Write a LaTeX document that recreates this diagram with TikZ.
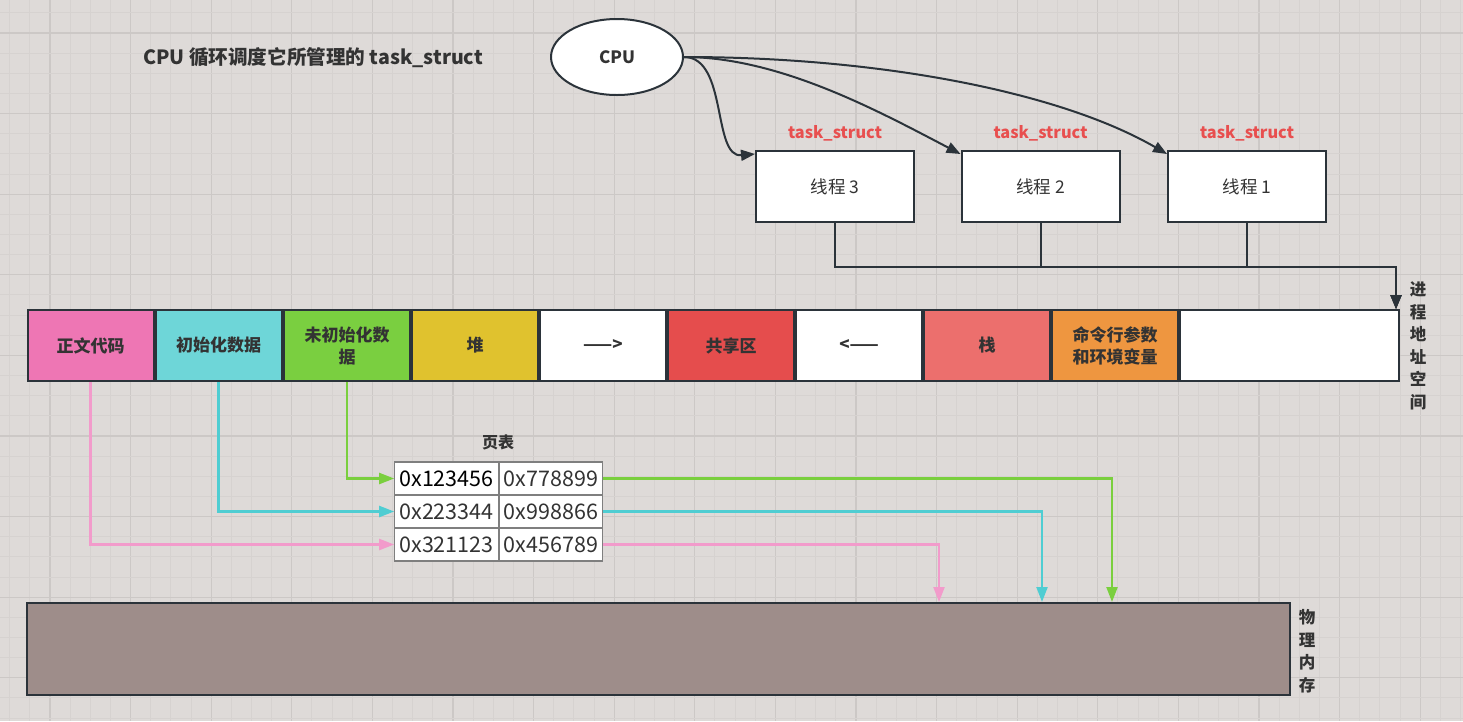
\documentclass[tikz,border=0pt]{standalone}
\usepackage{fontspec}
\setmainfont{Noto Sans CJK SC}
\usetikzlibrary{arrows.meta,shapes.geometric}
\definecolor{bg}{RGB}{222,218,216}
\definecolor{gminor}{RGB}{214,210,208}
\definecolor{gmajor}{RGB}{204,200,198}
\definecolor{bord}{HTML}{2B333A}
\definecolor{txt}{HTML}{333333}
\definecolor{pinkf}{HTML}{EE76B4}
\definecolor{cyanf}{HTML}{6ED6D8}
\definecolor{greenf}{HTML}{7ACF40}
\definecolor{yellowf}{HTML}{E0C22E}
\definecolor{redf}{HTML}{E54D4D}
\definecolor{lredf}{HTML}{EC6F6D}
\definecolor{orangef}{HTML}{EE9640}
\definecolor{memf}{HTML}{9E8D8A}
\definecolor{pinkl}{HTML}{F29BCB}
\definecolor{cyanl}{HTML}{4FCDD2}
\definecolor{greenl}{HTML}{7ACF3E}
\definecolor{taskred}{HTML}{E84F4F}
\definecolor{cellb}{HTML}{7F7F7F}
\tikzset{
  seg/.style={draw=bord,line width=2pt,minimum width=126pt,minimum height=71pt,inner sep=0pt,align=center,text=txt,font=\fontsize{17}{22}\selectfont\bfseries},
  thread/.style={draw=bord,fill=white,line width=2pt,minimum width=158pt,minimum height=71pt,inner sep=0pt,text=txt,font=\fontsize{17.5}{20}\selectfont},
  tasklbl/.style={text=taskred,font=\fontsize{16.3}{19}\selectfont\bfseries},
  cell/.style={draw=cellb,fill=white,line width=1.2pt,minimum width=103.5pt,minimum height=33pt,inner sep=0pt,text=txt,font=\fontsize{21.5}{24}\selectfont},
  vlabel/.style={align=center,text=txt,font=\fontsize{16.5}{22.5}\selectfont\bfseries},
  darr/.style={draw=bord,line width=2pt,-{Triangle[length=14pt,width=11pt]}},
  carr/.style={line width=2.2pt,-{Triangle[length=15pt,width=11pt]}}
}
\begin{document}
\begin{tikzpicture}[x=1pt,y=-1pt]
\fill[bg] (0,0) rectangle (1463,721);
\useasboundingbox (0,0) rectangle (1463,721);
\foreach \i in {0,...,72}{
  \pgfmathsetmacro\xx{9.7+20.15*\i}
  \pgfmathtruncatemacro\m{mod(\i,4)}
  \ifnum\m=2 \draw[gmajor,line width=1.3pt] (\xx,0)--(\xx,721);
  \else \draw[gminor,line width=1pt] (\xx,0)--(\xx,721); \fi
}
\foreach \i in {0,...,35}{
  \pgfmathsetmacro\yy{12.85+20.15*\i}
  \pgfmathtruncatemacro\m{mod(\i,4)}
  \ifnum\m=1 \draw[gmajor,line width=1.3pt] (0,\yy)--(1463,\yy);
  \else \draw[gminor,line width=1pt] (0,\yy)--(1463,\yy); \fi
}

% title
\node[text=txt,font=\fontsize{19.6}{23}\selectfont\bfseries] (title) at (313,58) {CPU 循环调度它所管理的 task\_struct};

% CPU
\node[ellipse,draw=bord,fill=white,line width=2pt,minimum width=132pt,minimum height=76pt,inner sep=0pt,text=txt,font=\fontsize{17}{20}\selectfont\bfseries] (cpu) at (617,57) {CPU};

% threads
\node[thread] (t3) at (835,186.5) {线程 3};
\node[thread] (t2) at (1040.5,186.5) {线程 2};
\node[thread] (t1) at (1247,186.5) {线程 1};
\node[tasklbl] (l3) at (835,133) {task\_struct};
\node[tasklbl] (l2) at (1040.5,133) {task\_struct};
\node[tasklbl] (l1) at (1247,133) {task\_struct};

% address space
\node[seg,fill=pinkf] (s1) at (90.5,345.5) {正文代码};
\node[seg,fill=cyanf] (s2) at (218.5,345.5) {初始化数据};
\node[seg,fill=greenf] (s3) at (347,345.5) {未初始化数\\据};
\node[seg,fill=yellowf] (s4) at (475,345.5) {堆};
\node[seg,fill=white] (s5) at (603,345.5) {——>};
\node[seg,fill=redf] (s6) at (731,345.5) {共享区};
\node[seg,fill=white] (s7) at (859,345.5) {<——};
\node[seg,fill=lredf] (s8) at (987,345.5) {栈};
\node[seg,fill=orangef] (s9) at (1115,345.5) {命令行参数\\和环境变量};
\node[seg,fill=white,minimum width=219pt] (s10) at (1289.5,345.5) {};
\node[vlabel] (asl) at (1418,346) {进\\程\\地\\址\\空\\间};

% CPU edges
\draw[darr] (cpu.east) .. controls (728,57) and (712,158) .. ([yshift=-4pt]t3.north west);
\draw[darr] (cpu.east) .. controls (780,57) and (880,112) .. ([yshift=-4pt]t2.north west);
\draw[darr] (cpu.east) .. controls (880,57) and (1060,92) .. ([yshift=-4pt]t1.north west);

% threads to address space
\draw[darr] (t3.south) -- ++(0,44) -| ([xshift=-4pt]s10.north east);
\draw[darr] (t2.south) -- ++(0,44) -| ([xshift=-4pt]s10.north east);
\draw[darr] (t1.south) -- ++(0,44) -| ([xshift=-4pt]s10.north east);

% page table
\node[text=txt,font=\fontsize{16}{19}\selectfont\bfseries] (ptl) at (498,442) {页表};
\node[cell,text=black] (c11) at (446.5,478.5) {0x123456};
\node[cell] (c12) at (551,478.5) {0x778899};
\node[cell] (c21) at (446.5,511.5) {0x223344};
\node[cell] (c22) at (551,511.5) {0x998866};
\node[cell] (c31) at (446.5,544.5) {0x321123};
\node[cell] (c32) at (551,544.5) {0x456789};

% physical memory
\node[draw=bord,fill=memf,line width=2pt,minimum width=1263pt,minimum height=92pt,inner sep=0pt] (mem) at (658.5,649) {};
\node[vlabel] (mml) at (1307,651) {物\\理\\内\\存};

% colored mapping arrows
\draw[carr,greenl] (s3.south) |- (c11.west);
\draw[carr,cyanl] (s2.south) |- (c21.west);
\draw[carr,pinkl] (s1.south) |- (c31.west);
\draw[carr,greenl] (c12.east) -| ([xshift=1086pt]mem.north west);
\draw[carr,cyanl] (c22.east) -| ([xshift=1016pt]mem.north west);
\draw[carr,pinkl] (c32.east) -| ([xshift=913pt]mem.north west);
\end{tikzpicture}
\end{document}
